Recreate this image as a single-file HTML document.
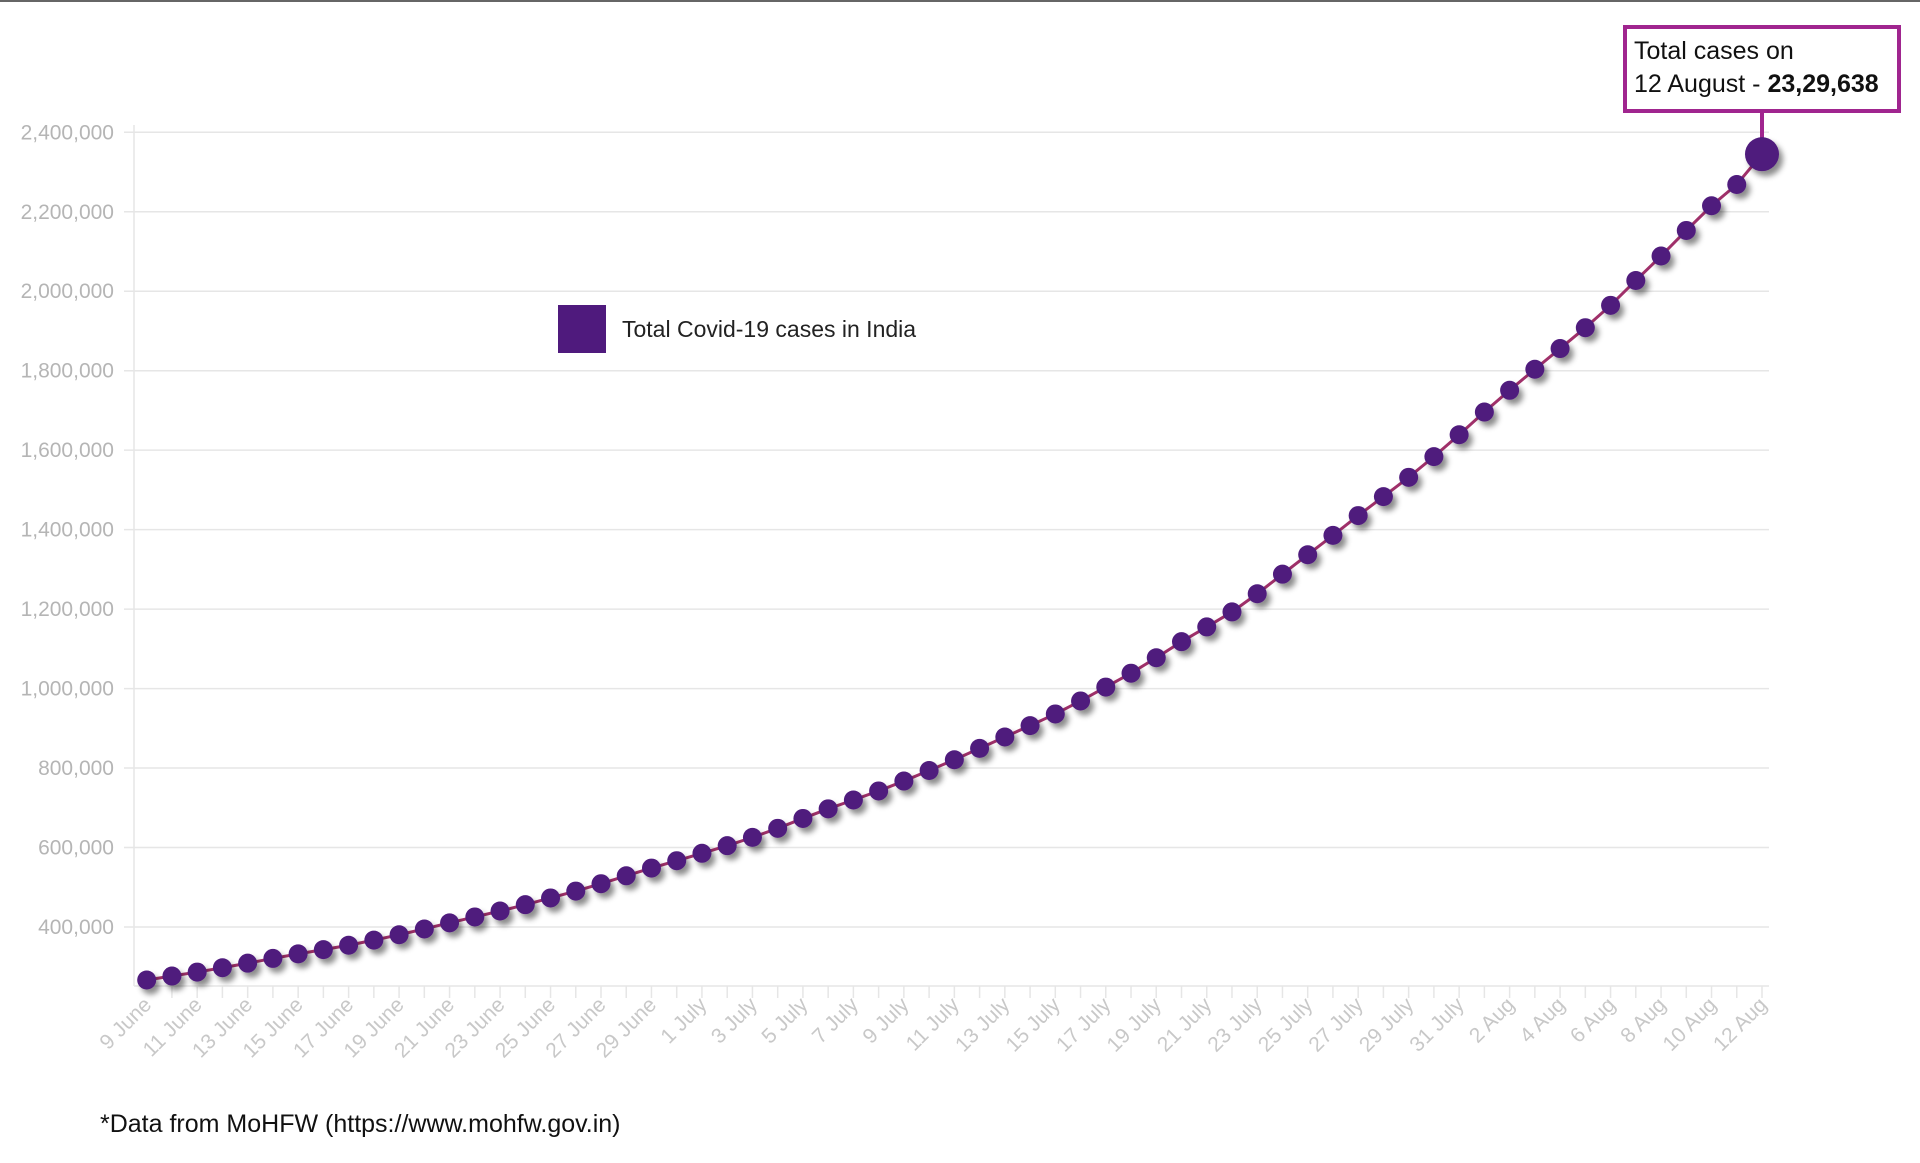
<!DOCTYPE html>
<html><head><meta charset="utf-8"><style>
html,body{margin:0;padding:0;background:#fff;}
body{width:1920px;height:1163px;overflow:hidden;position:relative;font-family:"Liberation Sans",sans-serif;}
</style></head><body>
<div style="position:absolute;left:0;top:0;width:1920px;height:2px;background:#666"></div>
<svg id="chart" width="1920" height="1163" style="position:absolute;left:0;top:0">
<defs><filter id="sh" x="-50%" y="-50%" width="250%" height="250%"><feDropShadow dx="4" dy="5" stdDeviation="3" flood-color="#000" flood-opacity="0.45"/></filter></defs>
<g id="grid"></g><g id="axes"></g><g id="series"></g>
</svg>
<div style="position:absolute;left:558px;top:305px;height:48px;display:flex;align-items:center">
<div style="width:48px;height:48px;background:#4f1a7d"></div>
<span style="margin-left:16px;font-size:23px;color:#222">Total Covid-19 cases in India</span></div>
<div style="position:absolute;left:1623px;top:25px;font-size:25px;line-height:33px;color:#111;padding:6px 0 0 7px;box-sizing:border-box;width:278px;height:88px;border:4px solid #a0258f;background:#fff">Total cases on<br>12 August - <b>23,29,638</b></div>
<div style="position:absolute;left:100px;top:1110px;font-size:25px;color:#111">*Data from MoHFW (https://www.mohfw.gov.in)</div>
<script>
const values=[266598,276583,286579,297535,308993,320922,332424,343091,354065,366946,380532,395048,410461,425282,440215,456183,473105,490401,508953,528859,548318,566840,585493,604641,625544,648315,673165,697413,719665,742417,767296,793802,820916,849553,878254,906752,936181,968876,1003832,1038716,1077618,1118043,1155191,1192915,1238635,1287945,1336861,1385522,1435453,1483156,1531669,1583792,1638870,1695988,1750723,1803695,1855745,1908254,1964536,2027074,2088611,2153010,2215074,2268675,2345000];
const xLabels=["9 June","11 June","13 June","15 June","17 June","19 June","21 June","23 June","25 June","27 June","29 June","1 July","3 July","5 July","7 July","9 July","11 July","13 July","15 July","17 July","19 July","21 July","23 July","25 July","27 July","29 July","31 July","2 Aug","4 Aug","6 Aug","8 Aug","10 Aug","12 Aug"];
const yTicks=[400000,600000,800000,1000000,1200000,1400000,1600000,1800000,2000000,2200000,2400000];
const NS="http://www.w3.org/2000/svg";
const X0=146.7,X1=1762,PL=134,PR=1769,PB=986;
function xs(i){return X0+(X1-X0)*i/(values.length-1);}
function ys(v){return 927-(v-400000)/2000000*(927-132.3);}
function mk(t,a,p){const e=document.createElementNS(NS,t);for(const k in a)e.setAttribute(k,a[k]);document.getElementById(p).appendChild(e);return e;}
yTicks.forEach(v=>{
 const l=mk('line',{x1:PL-10,x2:PR,y1:ys(v),y2:ys(v),stroke:'#e6e6e6','stroke-width':1.5},'grid');
 
 
 const t=mk('text',{x:114,y:ys(v)+7,'text-anchor':'end','font-size':21,fill:'#b5b5b5'},'axes');
 t.textContent=v.toLocaleString('en-US');
 
 
});
mk('line',{x1:PL,x2:PL,y1:125,y2:PB,stroke:'#e6e6e6','stroke-width':1.5},'grid');
mk('line',{x1:PL,x2:PR,y1:PB,y2:PB,stroke:'#e6e6e6','stroke-width':1.5},'grid');
values.forEach((v,i)=>{if(i>0)mk('line',{x1:xs(i),x2:xs(i),y1:PB,y2:PB+12,stroke:'#e6e6e6','stroke-width':1.5},'grid');});
xLabels.forEach((s,j)=>{
 const x=xs(j*2);
 const t=mk('text',{x:x+6,y:PB+20,'text-anchor':'end','font-size':21,fill:'#c8c8c8',transform:`rotate(-45 ${x+6} ${PB+20})`},'axes');
 t.textContent=s;
 
 
});
const path=mk('polyline',{points:values.map((v,i)=>xs(i)+','+ys(v)).join(' '),fill:'none',stroke:'#a0306a','stroke-width':3},'series');


const n=values.length-1;
mk('line',{x1:xs(n),x2:xs(n),y1:113,y2:ys(values[n]),stroke:'#a0258f','stroke-width':4},'series');
values.forEach((v,i)=>{
 const c=mk('circle',{cx:xs(i),cy:ys(v),r:i===n?17:9.5,fill:'#4f1a7d',filter:'url(#sh)'},'series');
 
 
});
</script>
</body></html>
